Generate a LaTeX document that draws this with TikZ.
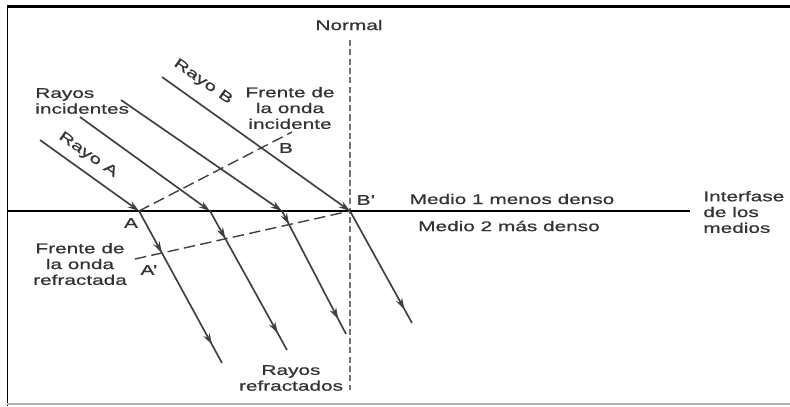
\documentclass[tikz,border=0pt]{standalone}
\usepackage{fontspec}
\setmainfont[FakeStretch=1.48,FakeBold=0.8]{Liberation Sans}
\usetikzlibrary{arrows.meta,decorations.markings}

\begin{document}
\begin{tikzpicture}[x=0.02cm, y=-0.02cm,
    txt/.style={inner sep=0pt, text=black!80, font=\fontsize{8}{9}\selectfont},
    ray/.style={draw=black!75, line width=0.95pt},
    tip/.style={-{Stealth[length=6.5pt,width=4pt]}},
    mid/.style={postaction={decorate, decoration={markings,
        mark=at position #1 with {\arrow{Stealth[length=6.5pt,width=4pt]}}}}},
    front/.style={draw=black!75, line width=0.8pt, dash pattern=on 6.5pt off 3pt},
    normal/.style={draw=black!55, line width=0.8pt, dash pattern=on 3.5pt off 1.8pt}]

    \useasboundingbox (0,0) rectangle (790,406);
    \draw [black, line width=1.2pt] (7,6.5) -- (790,6.5);
    \draw [black, line width=1.1pt] (7.5,6) -- (7.5,406);
    \draw [black!30, line width=0.9pt] (7,404) -- (790,404);

    \coordinate (s1) at (40,140);
    \coordinate (s2) at (80,117);
    \coordinate (s3) at (121,100);
    \coordinate (s4) at (162,77);
    \coordinate (p1) at (139,211);
    \coordinate (p2) at (210,211);
    \coordinate (p3) at (282,211);
    \coordinate (p4) at (350,211);
    \coordinate (e1) at (222,363);
    \coordinate (e2) at (287,350);
    \coordinate (e3) at (346,334);
    \coordinate (e4) at (412,323);
    \coordinate (l0) at (8,211);
    \coordinate (l1) at (690,211);
    \coordinate (n0) at (350,40);
    \coordinate (n1) at (350,390);
    \coordinate (i1) at (292,132);
    \coordinate (r0) at (135,259);

    \draw [normal] (n0) -- (n1);
    \draw [black, line width=1pt] (l0) -- (l1);
    \draw [front] (p1) -- (i1);
    \draw [front] (r0) -- (p4);

    \draw [ray, tip] (s1) -- (p1);
    \draw [ray, tip] (s2) -- (p2);
    \draw [ray, tip] (s3) -- (p3);
    \draw [ray, tip] (s4) -- (p4);
    \draw [ray, mid=0.276, mid=0.88] (p1) -- (e1);
    \draw [ray, mid=0.2, mid=0.88] (p2) -- (e2);
    \draw [ray, mid=0.11, mid=0.88] (p3) -- (e3);
    \draw [ray, mid=0.88] (p4) -- (e4);

    \node [txt] (nm) at (349,25) {Normal};
    \node [txt, align=left, anchor=west] (ri) at (35,101) {Rayos\\incidentes};
    \node [txt, align=center] (fi) at (290,108) {Frente de\\la onda\\incidente};
    \node [txt, rotate=-35] (ra) at (88,155) {Rayo A};
    \node [txt, rotate=-35] (rb) at (203,82) {Rayo B};
    \node [txt] (b) at (286,148) {B};
    \node [txt] (b') at (366,200) {B'};
    \node [txt] (a) at (131,223) {A};
    \node [txt] (a') at (149,270) {A'};
    \node [txt, align=center] (fr) at (80,264) {Frente de\\la onda\\refractada};
    \node [txt, align=center] (rr) at (291,378) {Rayos\\refractados};
    \node [txt] (m1) at (512,199) {Medio 1 menos denso};
    \node [txt] (m2) at (509,226) {Medio 2 más denso};
    \node [txt, align=left, anchor=west] (im) at (703,212) {Interfase\\de los\\medios};

  \end{tikzpicture}
\end{document}
